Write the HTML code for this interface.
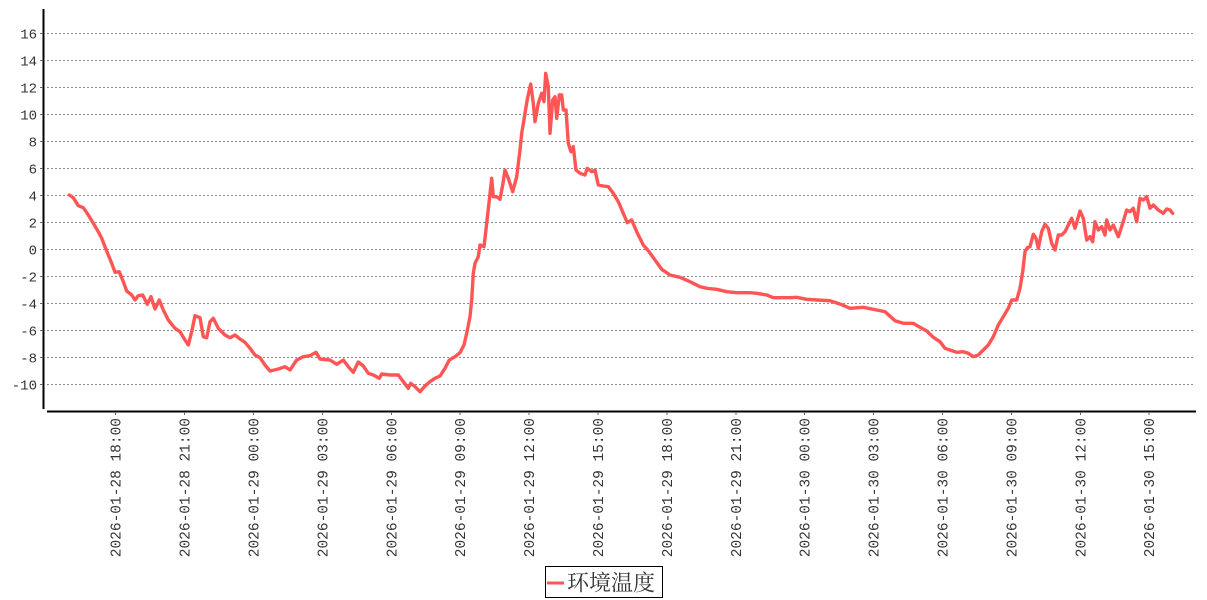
<!DOCTYPE html>
<html>
<head>
<meta charset="utf-8">
<style>
  html,body{margin:0;padding:0;background:#fff;}
  svg{display:block;}
  .yl{font-family:"Liberation Mono","DejaVu Sans Mono",monospace;font-size:14px;fill:#333;}
  .xl{font-family:"Liberation Mono","DejaVu Sans Mono",monospace;font-size:14.5px;fill:#333;}
  .lg{font-family:"Noto Serif CJK SC","Liberation Serif","Noto Sans CJK SC",serif;font-size:22px;fill:#333;}
</style>
</head>
<body>
<svg width="1207" height="600" viewBox="0 0 1207 600" xmlns="http://www.w3.org/2000/svg">
  <rect x="0" y="0" width="1207" height="600" fill="#fff"/>
  <g stroke="#8a8a8a" stroke-width="1" stroke-dasharray="2,2" shape-rendering="crispEdges">
    <line x1="47" y1="33.5" x2="1194" y2="33.5"/>
    <line x1="47" y1="60.5" x2="1194" y2="60.5"/>
    <line x1="47" y1="87.5" x2="1194" y2="87.5"/>
    <line x1="47" y1="114.5" x2="1194" y2="114.5"/>
    <line x1="47" y1="141.5" x2="1194" y2="141.5"/>
    <line x1="47" y1="168.5" x2="1194" y2="168.5"/>
    <line x1="47" y1="195.5" x2="1194" y2="195.5"/>
    <line x1="47" y1="222.5" x2="1194" y2="222.5"/>
    <line x1="47" y1="249.5" x2="1194" y2="249.5"/>
    <line x1="47" y1="276.5" x2="1194" y2="276.5"/>
    <line x1="47" y1="303.5" x2="1194" y2="303.5"/>
    <line x1="47" y1="330.5" x2="1194" y2="330.5"/>
    <line x1="47" y1="357.5" x2="1194" y2="357.5"/>
    <line x1="47" y1="384.5" x2="1194" y2="384.5"/>
  </g>
  <g stroke="#000" shape-rendering="crispEdges">
    <line x1="43.5" y1="9" x2="43.5" y2="409" stroke-width="2"/>
    <line x1="47" y1="411.5" x2="1196" y2="411.5" stroke-width="2"/>
  </g>
  <g stroke="#666" stroke-width="1" shape-rendering="crispEdges">
    <line x1="40" y1="33.5" x2="43" y2="33.5"/><line x1="40" y1="60.5" x2="43" y2="60.5"/>
    <line x1="40" y1="87.5" x2="43" y2="87.5"/><line x1="40" y1="114.5" x2="43" y2="114.5"/>
    <line x1="40" y1="141.5" x2="43" y2="141.5"/><line x1="40" y1="168.5" x2="43" y2="168.5"/>
    <line x1="40" y1="195.5" x2="43" y2="195.5"/><line x1="40" y1="222.5" x2="43" y2="222.5"/>
    <line x1="40" y1="249.5" x2="43" y2="249.5"/><line x1="40" y1="276.5" x2="43" y2="276.5"/>
    <line x1="40" y1="303.5" x2="43" y2="303.5"/><line x1="40" y1="330.5" x2="43" y2="330.5"/>
    <line x1="40" y1="357.5" x2="43" y2="357.5"/><line x1="40" y1="384.5" x2="43" y2="384.5"/>
  </g>
  <g class="yl" text-anchor="end">
    <text x="37" y="38.5">16</text>
    <text x="37" y="65.5">14</text>
    <text x="37" y="92.5">12</text>
    <text x="37" y="119.5">10</text>
    <text x="37" y="146.5">8</text>
    <text x="37" y="173.5">6</text>
    <text x="37" y="200.5">4</text>
    <text x="37" y="227.5">2</text>
    <text x="37" y="254.5">0</text>
    <text x="37" y="281.5">-2</text>
    <text x="37" y="308.5">-4</text>
    <text x="37" y="335.5">-6</text>
    <text x="37" y="362.5">-8</text>
    <text x="37" y="389.5">-10</text>
  </g>
  <g stroke="#666" stroke-width="1" shape-rendering="crispEdges">
    <line x1="115.7" y1="412" x2="115.7" y2="415"/>
    <line x1="184.6" y1="412" x2="184.6" y2="415"/>
    <line x1="253.5" y1="412" x2="253.5" y2="415"/>
    <line x1="322.4" y1="412" x2="322.4" y2="415"/>
    <line x1="391.3" y1="412" x2="391.3" y2="415"/>
    <line x1="460.2" y1="412" x2="460.2" y2="415"/>
    <line x1="529.1" y1="412" x2="529.1" y2="415"/>
    <line x1="598" y1="412" x2="598" y2="415"/>
    <line x1="666.9" y1="412" x2="666.9" y2="415"/>
    <line x1="735.8" y1="412" x2="735.8" y2="415"/>
    <line x1="804.7" y1="412" x2="804.7" y2="415"/>
    <line x1="873.6" y1="412" x2="873.6" y2="415"/>
    <line x1="942.5" y1="412" x2="942.5" y2="415"/>
    <line x1="1011.4" y1="412" x2="1011.4" y2="415"/>
    <line x1="1080.3" y1="412" x2="1080.3" y2="415"/>
    <line x1="1149.2" y1="412" x2="1149.2" y2="415"/>
  </g>
  <g class="xl" text-anchor="end">
    <text transform="translate(120.7,418) rotate(-90)">18:00</text><text transform="translate(120.7,470.2) rotate(-90)">2026-01-28</text>
    <text transform="translate(189.6,418) rotate(-90)">21:00</text><text transform="translate(189.6,470.2) rotate(-90)">2026-01-28</text>
    <text transform="translate(258.5,418) rotate(-90)">00:00</text><text transform="translate(258.5,470.2) rotate(-90)">2026-01-29</text>
    <text transform="translate(327.4,418) rotate(-90)">03:00</text><text transform="translate(327.4,470.2) rotate(-90)">2026-01-29</text>
    <text transform="translate(396.3,418) rotate(-90)">06:00</text><text transform="translate(396.3,470.2) rotate(-90)">2026-01-29</text>
    <text transform="translate(465.2,418) rotate(-90)">09:00</text><text transform="translate(465.2,470.2) rotate(-90)">2026-01-29</text>
    <text transform="translate(534.1,418) rotate(-90)">12:00</text><text transform="translate(534.1,470.2) rotate(-90)">2026-01-29</text>
    <text transform="translate(603,418) rotate(-90)">15:00</text><text transform="translate(603,470.2) rotate(-90)">2026-01-29</text>
    <text transform="translate(671.9,418) rotate(-90)">18:00</text><text transform="translate(671.9,470.2) rotate(-90)">2026-01-29</text>
    <text transform="translate(740.8,418) rotate(-90)">21:00</text><text transform="translate(740.8,470.2) rotate(-90)">2026-01-29</text>
    <text transform="translate(809.7,418) rotate(-90)">00:00</text><text transform="translate(809.7,470.2) rotate(-90)">2026-01-30</text>
    <text transform="translate(878.6,418) rotate(-90)">03:00</text><text transform="translate(878.6,470.2) rotate(-90)">2026-01-30</text>
    <text transform="translate(947.5,418) rotate(-90)">06:00</text><text transform="translate(947.5,470.2) rotate(-90)">2026-01-30</text>
    <text transform="translate(1016.4,418) rotate(-90)">09:00</text><text transform="translate(1016.4,470.2) rotate(-90)">2026-01-30</text>
    <text transform="translate(1085.3,418) rotate(-90)">12:00</text><text transform="translate(1085.3,470.2) rotate(-90)">2026-01-30</text>
    <text transform="translate(1154.2,418) rotate(-90)">15:00</text><text transform="translate(1154.2,470.2) rotate(-90)">2026-01-30</text>
  </g>
  <polyline fill="none" stroke="#ff5555" stroke-width="3.4" stroke-linejoin="round" stroke-linecap="round" points="
69.3,195 73.3,197.7 78.3,205.7 83.3,207.7 88.3,215 93.3,223.3 98.3,231.7 101.7,238.3 105,246.7 108.3,255
111.7,263.3 115,272.3 119.3,271.7 123.3,281.7 126.7,291 131.7,295 135,300 138.3,295.7 142.7,295 147.3,304.3
151,296.7 155,309 159.3,300 163.3,310 168.3,320 175,328.3 180,331.7 185,340 188.3,345 191.7,331.7
195,315.7 200,317.7 203.3,336.7 206.7,337.7 210,321.7 213.3,318.3 218.3,328.3 225,335 230,337.7 235,335
240,339 245,342.3 250,348.3 255,355 260,357.7 265,365 270,371 278.3,369 285,366.7 290,370
296.7,360 303.3,356.7 310,355.7 316,352.3 320,359 330,360 336.7,364.3 343.3,360 348.3,366.7 353.3,372.3
358.3,362 363.3,366 368.3,373.3 373.3,375 379.3,378.3 381.7,374 390,375 398.3,375 403.3,381.7 408.3,388.3
410.7,383.3 415,386.7 420,391.7 425,386 430,381.7 435,378.3 440,376 445,368.3 449.3,360 455,356.7
460,352.7 464,345 466.7,333.3 470,316.7 471.7,300 473.3,273.3 475,263.3 478.3,256.7 480,245 484,246.7
486.7,223.3 489.3,200 491.7,178.3 493.3,196.7 496.7,196.7 500,199.3 502.7,185 505,170 508.3,178.3 512.7,191.7
516.7,176.7 520,150 521.7,133.3 525,113.3 527.3,99.3 530.7,84 533.3,103.3 535,121.7 538.3,103.3 541.7,93.3
544,101.7 545.7,73.3 548.3,86.7 550,133.3 552.7,100 555,96.7 556.7,118.3 559.3,95 561.7,95 563.3,110
566,110 568.3,143.3 571,151.7 573.3,146.7 576,170 580,173.3 585,175 587.3,168.3 591.7,171.7 595,170
598.3,185 603.3,186 608.3,186.7 613.3,193.3 618.3,201.7 623.3,213.3 627.3,222.7 631.7,220 636.7,231.7 643.3,245
648.3,250.7 655,260 661.7,269.3 670,275 680,277.3 690,281.7 700,286.7 706.7,288.3 716.7,289.3 726.7,291.7
736.7,292.7 750,292.7 756.7,293.3 766.7,295 773.3,297.7 790,297.7 796.7,297.3 806.7,299.3 816.7,300 830,300.7
840,304 850,308.3 863.3,307.3 876.7,310 885,311.7 895,320.7 903.3,323.3 913.3,323.3 920,327.3 926.7,331
933.3,337.3 940,341.7 945,348.3 950,350 956.7,352.3 963.3,351.7 968.3,353.3 973.3,356.7 978.3,355 983.3,350
988.3,345 993.3,336.7 998.3,325 1003.3,316.7 1008.3,308.3 1011.7,300 1016.7,300 1020,288.3 1022.7,271.7 1025,251.7
1027.3,247.7 1030,246.7 1033.3,234.3 1036,238.3 1038.3,248.3 1041.7,231.7 1045,224.3 1048.3,228.3 1051.7,243.3 1055,250
1058.3,235 1061.7,235 1065,231.7 1068.3,225 1071.7,218.3 1075,228.3 1080,211 1083.3,218.3 1086.7,240 1090,236.7
1092.7,241.7 1095,221.7 1098.3,230 1101.7,226.7 1105,235 1106.7,220 1110,230 1113.3,225 1118.3,236.7 1122.7,223.3
1126.7,210 1130,211.7 1133.3,208.3 1136.7,221.7 1140,198.3 1143.3,200 1146.7,196.7 1150,208.3 1153.3,205 1158.3,210
1163.3,213.3 1166.7,209 1170,210 1172.7,213.3"/>
  <rect x="545.5" y="566.5" width="117" height="31" fill="#fff" stroke="#000" stroke-width="1"/>
  <line x1="547" y1="583" x2="564" y2="583" stroke="#ff5555" stroke-width="3"/>
  <text class="lg" x="567" y="590.5">环境温度</text>
</svg>
</body>
</html>
